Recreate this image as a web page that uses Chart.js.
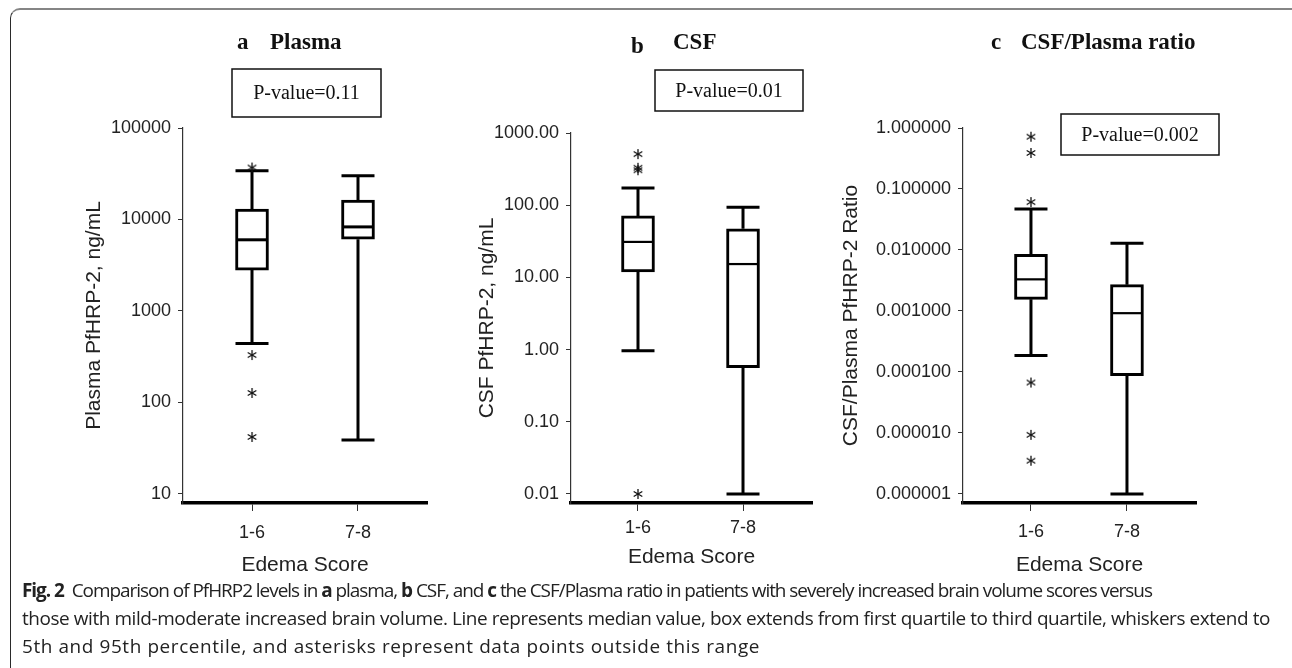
<!DOCTYPE html>
<html>
<head>
<meta charset="utf-8">
<script src="https://cdn.jsdelivr.net/npm/chart.js@4.4.1/dist/chart.umd.min.js"></script>
<style>
  html, body { margin: 0; padding: 0; background: #fff; }
  body { width: 1292px; height: 668px; position: relative; overflow: hidden; }
  canvas { position: absolute; left: 0; top: 0; }
  #frame { position: absolute; left: 10px; top: 8px; width: 1300px; height: 700px;
           border-top: 2px solid #858585; border-left: 1.5px solid #2a2a2a; border-top-left-radius: 10px; }
  #caption { position: absolute; left: 22px; top: 576px; font-family: 'Open Sans', sans-serif;
             font-size: 16px; color: #222; }
  #caption div { height: 28px; line-height: 28px; white-space: nowrap; }
</style>
</head>
<body>
<div id="frame"></div>
<canvas id="plasma" width="1292" height="668"></canvas>
<canvas id="csf" width="1292" height="668"></canvas>
<canvas id="ratio" width="1292" height="668"></canvas>
<div id="caption">
  <div><span id="cap1"><b>Fig. 2</b>&nbsp; Comparison of PfHRP2 levels in <b>a</b> plasma, <b>b</b> CSF, and <b>c</b> the CSF/Plasma ratio in patients with severely increased brain volume scores versus</span></div>
  <div><span id="cap2">those with mild-moderate increased brain volume. Line represents median value, box extends from first quartile to third quartile, whiskers extend to</span></div>
  <div><span id="cap3">5th and 95th percentile, and asterisks represent data points outside this range</span></div>
</div>
<script>
// categorias do eixo x
const categories = ['1-6', '7-8'];

// a - Plasma (ng/mL)
const plasmaTicks = [10, 100, 1000, 10000, 100000];
const plasmaLow = [440, 39];
const plasmaQ1 = [2800, 6100];
const plasmaMedian = [6000, 8300];
const plasmaQ3 = [13000, 16300];
const plasmaHigh = [34000, 30000];
const plasmaOutliers = [[37000, 330, 127, 42], []];

// b - CSF (ng/mL)
const csfTicks = [0.01, 0.1, 1, 10, 100, 1000];
const csfLow = [0.96, 0.01];
const csfQ1 = [11.9, 0.56];
const csfMedian = [31, 15.3];
const csfQ3 = [71, 47];
const csfHigh = [173, 94];
const csfOutliers = [[510, 330, 305, 0.01], []];

// c - razão CSF/Plasma
const ratioTicks = [0.000001, 0.00001, 0.0001, 0.001, 0.01, 0.1, 1];
const ratioLow = [0.000186, 0.000001];
const ratioQ1 = [0.00155, 0.000087];
const ratioMedian = [0.0033, 0.00092];
const ratioQ3 = [0.0085, 0.0027];
const ratioHigh = [0.047, 0.0129];
const ratioOutliers = [[0.72, 0.39, 0.061, 0.000067, 0.0000093, 0.0000035], []];

Chart.defaults.font.family = "'Liberation Sans', Arial, sans-serif";
Chart.defaults.color = '#222';

// asterisco usado nos outliers
function makeAsterisk() {
    const c = document.createElement('canvas');
    c.width = 12; c.height = 12;
    const g = c.getContext('2d');
    g.strokeStyle = '#111';
    g.lineWidth = 1.3;
    g.translate(6, 6);
    [90, 30, 150].forEach(deg => {
        const r = deg * Math.PI / 180;
        g.beginPath();
        g.moveTo(-5 * Math.cos(r), -5 * Math.sin(r));
        g.lineTo(5 * Math.cos(r), 5 * Math.sin(r));
        g.stroke();
    });
    return c;
}
const asterisk = makeAsterisk();

function boxChart(id, cfg) {
    const outlierPoints = [];
    cfg.outliers.forEach((list, i) => list.forEach(v => outlierPoints.push({ x: i, y: v })));

    // bigodes, tampas e mediana
    const whiskers = {
        id: 'whiskers',
        afterDatasetDraw(chart, args) {
            if (args.index !== 0) return;
            const { ctx, scales: { y } } = chart;
            ctx.save();
            ctx.strokeStyle = '#000';
            ctx.lineWidth = 3;
            args.meta.data.forEach((bar, i) => {
                const cx = bar.x, half = bar.width / 2;
                const pLow = y.getPixelForValue(cfg.low[i]);
                const pHigh = y.getPixelForValue(cfg.high[i]);
                const pQ1 = y.getPixelForValue(cfg.q1[i]);
                const pQ3 = y.getPixelForValue(cfg.q3[i]);
                const pMed = y.getPixelForValue(cfg.median[i]);
                ctx.beginPath();
                ctx.moveTo(cx, pQ3); ctx.lineTo(cx, pHigh);
                ctx.moveTo(cx, pQ1); ctx.lineTo(cx, pLow);
                ctx.moveTo(cx - half, pHigh); ctx.lineTo(cx + half, pHigh);
                ctx.moveTo(cx - half, pLow); ctx.lineTo(cx + half, pLow);
                ctx.stroke();
                ctx.lineWidth = cfg.medianWidth;
                ctx.beginPath();
                ctx.moveTo(cx - half + 2, pMed); ctx.lineTo(cx + half - 2, pMed);
                ctx.stroke();
                ctx.lineWidth = 3;
            });
            ctx.restore();
        }
    };

    // título do painel e caixa do p-valor
    const panelText = {
        id: 'panelText',
        afterDraw(chart) {
            const ctx = chart.ctx;
            const t = cfg.text;
            ctx.save();
            ctx.fillStyle = '#111';
            ctx.font = "bold 23px 'Liberation Serif', 'Times New Roman', serif";
            ctx.textBaseline = 'alphabetic';
            ctx.fillText(t.letter, t.letterX, t.letterY);
            ctx.fillText(t.title, t.titleX, t.titleY);
            ctx.lineWidth = 1.5;
            ctx.strokeStyle = '#111';
            ctx.strokeRect(t.box[0], t.box[1], t.box[2] - t.box[0], t.box[3] - t.box[1]);
            ctx.font = "20px 'Liberation Serif', 'Times New Roman', serif";
            ctx.textAlign = 'center';
            ctx.textBaseline = 'middle';
            ctx.fillText(t.pValue, (t.box[0] + t.box[2]) / 2, (t.box[1] + t.box[3]) / 2 + 1);
            ctx.restore();
        }
    };

    return new Chart(document.getElementById(id), {
        type: 'bar',
        data: {
            datasets: [{
                type: 'bar',
                order: 1,
                data: categories.map((c, i) => ({ x: i, y: [cfg.q1[i], cfg.q3[i]] })),
                backgroundColor: '#fff',
                borderColor: '#000',
                borderWidth: 3,
                borderSkipped: false,
                barThickness: 33
            }, {
                type: 'scatter',
                order: 0,
                data: outlierPoints,
                pointStyle: asterisk
            }]
        },
        options: {
            responsive: false,
            animation: false,
            layout: { padding: { left: cfg.padLeft, top: cfg.top, right: 1292 - cfg.right, bottom: 85 } },
            plugins: { legend: { display: false }, tooltip: { enabled: false } },
            scales: {
                x: {
                    type: 'linear',
                    offset: false,
                    min: cfg.xMin,
                    max: cfg.xMax,
                    afterBuildTicks: s => { s.ticks = [{ value: 0 }, { value: 1 }]; },
                    afterFit: s => { s.height = 80; },
                    ticks: { callback: v => categories[v], font: { size: 18 }, color: '#222', padding: cfg.xTickPad, autoSkip: false, maxRotation: 0 },
                    grid: { offset: false, drawOnChartArea: false, drawTicks: true, tickLength: 8, color: '#333', lineWidth: 1 },
                    border: { display: true, width: 3.5, color: '#000' },
                    title: { display: true, text: 'Edema Score', font: { size: 21 }, color: '#222', padding: { top: 4, bottom: cfg.xTitlePad } }
                },
                y: {
                    type: 'logarithmic',
                    min: cfg.yMin,
                    max: cfg.ticks[cfg.ticks.length - 1],
                    afterBuildTicks: s => { s.ticks = cfg.ticks.map(v => ({ value: v })); },
                    afterFit: s => { s.width = cfg.yWidth; },
                    ticks: { callback: v => cfg.fmt(v), font: { size: 18 }, color: '#222', padding: 7, autoSkip: false },
                    grid: { drawOnChartArea: false, drawTicks: true, tickLength: 5, color: '#333', lineWidth: 1 },
                    border: { display: true, width: 1.2, color: '#333' },
                    title: { display: true, text: cfg.yTitle, font: { size: 21 }, color: '#222', padding: { top: 4, bottom: 4 } }
                }
            }
        },
        plugins: [whiskers, panelText]
    });
}

boxChart('plasma', {
    ticks: plasmaTicks, low: plasmaLow, q1: plasmaQ1, median: plasmaMedian, q3: plasmaQ3, high: plasmaHigh,
    outliers: plasmaOutliers, fmt: v => String(v), yTitle: 'Plasma PfHRP-2, ng/mL',
    yMin: 7.97, top: 128, right: 427, padLeft: 78, yWidth: 105, xMin: -0.651, xMax: 1.651,
    xTickPad: 11, xTitlePad: 5, medianWidth: 3,
    text: { letter: 'a', letterX: 237, letterY: 49, title: 'Plasma', titleX: 270, titleY: 49, box: [232, 69, 381, 117], pValue: 'P-value=0.11' }
});

boxChart('csf', {
    ticks: csfTicks, low: csfLow, q1: csfQ1, median: csfMedian, q3: csfQ3, high: csfHigh,
    outliers: csfOutliers, fmt: v => v.toFixed(2), yTitle: 'CSF PfHRP-2, ng/mL',
    yMin: 0.0075, top: 133, right: 812, padLeft: 471, yWidth: 100, xMin: -0.638, xMax: 1.657,
    xTickPad: 6, xTitlePad: 13, medianWidth: 2.2,
    text: { letter: 'b', letterX: 631, letterY: 53, title: 'CSF', titleX: 673, titleY: 49, box: [655, 70, 803, 111], pValue: 'P-value=0.01' }
});

boxChart('ratio', {
    ticks: ratioTicks, low: ratioLow, q1: ratioQ1, median: ratioMedian, q3: ratioQ3, high: ratioHigh,
    outliers: ratioOutliers, fmt: v => v.toFixed(6), yTitle: 'CSF/Plasma PfHRP-2 Ratio',
    yMin: 0.00000071, top: 128, right: 1196, padLeft: 835, yWidth: 128, xMin: -0.708, xMax: 1.719,
    xTickPad: 10, xTitlePad: 5, medianWidth: 2.2,
    text: { letter: 'c', letterX: 991, letterY: 49, title: 'CSF/Plasma ratio', titleX: 1021, titleY: 49, box: [1061, 114, 1219, 155], pValue: 'P-value=0.002' }
});

// ajusta a legenda: fonte um pouco maior e espaçamento por linha até a largura de cada linha
const capTargets = { cap1: 1130, cap2: 1248, cap3: 738 };
const baseW = document.getElementById('cap2').getBoundingClientRect().width;
document.getElementById('caption').style.fontSize = (16 * 1.05 * capTargets.cap2 / baseW).toFixed(2) + 'px';
Object.keys(capTargets).forEach(id => {
    const el = document.getElementById(id);
    const n = el.textContent.length;
    const diff = capTargets[id] - el.getBoundingClientRect().width;
    el.style.letterSpacing = (diff / n).toFixed(3) + 'px';
});
</script>
</body>
</html>
